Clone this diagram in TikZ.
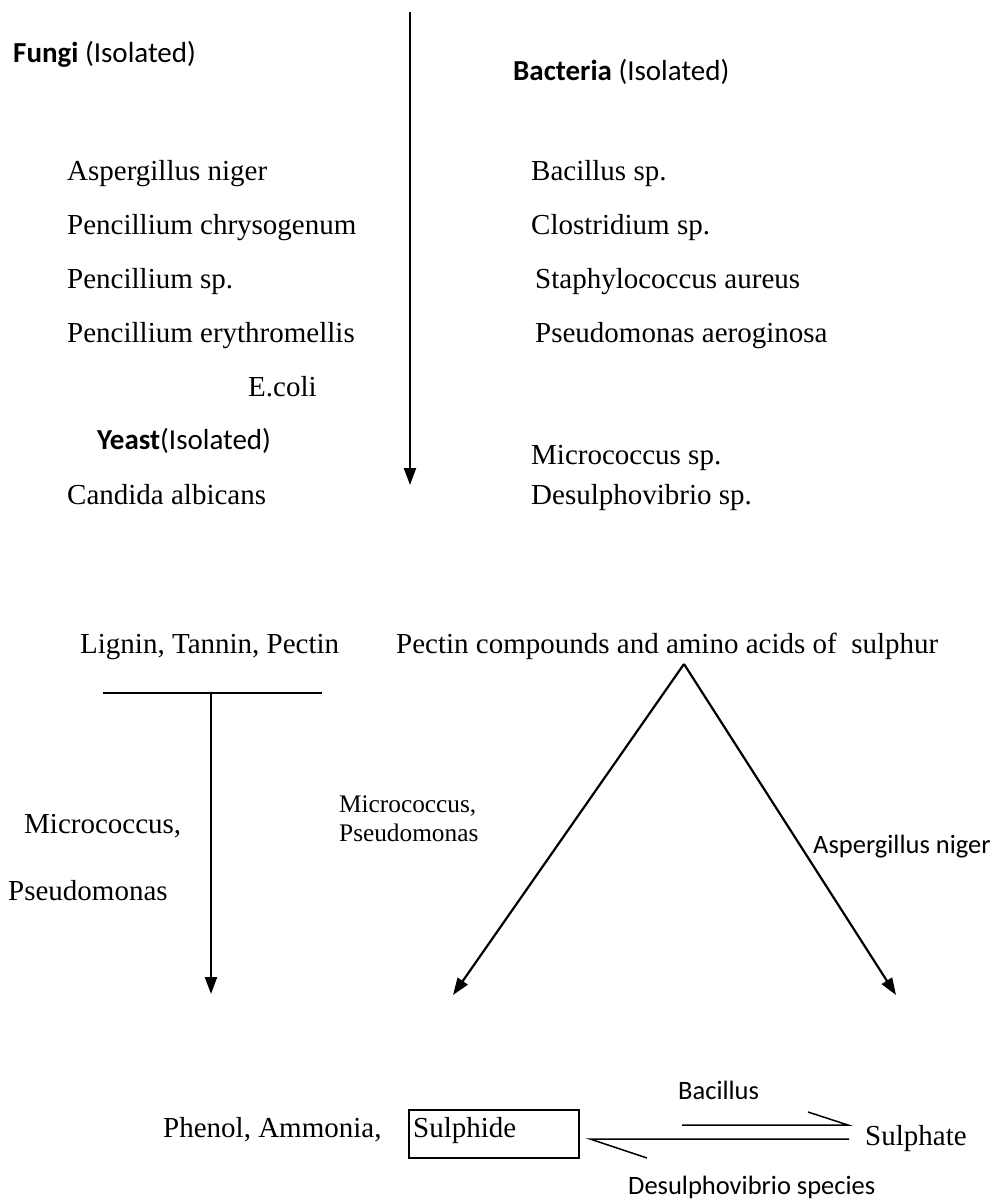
\documentclass[tikz,border=0pt]{standalone}
\usepackage{fontspec}
\setmainfont{Liberation Serif}
\newfontfamily\calfont{Carlito}
\usetikzlibrary{arrows.meta}
\begin{document}
\begin{tikzpicture}[x=1pt,y=-1pt,
  tm/.style={font=\fontsize{29}{34}\selectfont, inner sep=0pt, anchor=base west},
  tms/.style={font=\fontsize{25.3}{30}\selectfont, inner sep=0pt, anchor=base west},
  cb/.style={font=\calfont\fontsize{26.5}{32}\selectfont, inner sep=0pt, anchor=base west},
  cbh/.style={font=\calfont\fontsize{29}{34}\selectfont, inner sep=0pt, anchor=base west},
  ln/.style={line width=2.2pt},
  arr/.style={ln, -{Triangle[length=17pt,width=12pt]}}]
\useasboundingbox (0,0) rectangle (1001,1200);
% headings
\node[cbh] (fungi) at (13,62) {\textbf{Fungi} (Isolated)};
\node[cbh] (bact) at (513,80) {\textbf{Bacteria} (Isolated)};
% left list
\node[tm] (f1) at (67,180) {Aspergillus niger};
\node[tm] (f2) at (67,234) {Pencillium chrysogenum};
\node[tm] (f3) at (67,288) {Pencillium sp.};
\node[tm] (f4) at (67,342) {Pencillium erythromellis};
\node[tm] (f5) at (248,396) {E.coli};
\node[cbh] (yeast) at (97,449) {\textbf{Yeast}(Isolated)};
\node[tm] (f6) at (67,504) {Candida albicans};
% right list
\node[tm] (b1) at (531,180) {Bacillus sp.};
\node[tm] (b2) at (531,234) {Clostridium sp.};
\node[tm] (b3) at (535,288) {Staphylococcus aureus};
\node[tm] (b4) at (535,342) {Pseudomonas aeroginosa};
\node[tm] (b5) at (531,464) {Micrococcus sp.};
\node[tm] (b6) at (531,504) {Desulphovibrio sp.};
% top arrow
\coordinate (ts) at (410,12);
\coordinate (te) at (410,485);
\draw[arr] (ts) -- (te);
% lower section
\node[tm] (lig) at (80,653) {Lignin, Tannin, Pectin};
\node[tm] (pec) at (396,653) {Pectin compounds and amino acids of\ \ sulphur};
\coordinate (barL) at (103,693);
\coordinate (barR) at (322,693);
\coordinate (barM) at (211,693);
\coordinate (barE) at (211,994);
\draw[ln] (barL) -- (barR);
\draw[arr] (barM) -- (barE);
\node[tm] (lm1) at (24,833) {Micrococcus,};
\node[tm] (lm2) at (8,900) {Pseudomonas};
\coordinate (apex) at (684,664);
\coordinate (tl) at (453,995);
\coordinate (tr) at (896,995);
\draw[arr] (apex) -- (tl);
\draw[arr] (apex) -- (tr);
\node[tms] (mm1) at (339,812) {Micrococcus,};
\node[tms] (mm2) at (339,841) {Pseudomonas};
\node[cb] (asp) at (813,853) {Aspergillus niger};
% bottom row
\node[tm] (phen) at (163,1137) {Phenol, Ammonia,};
\node[draw, line width=1.4pt, minimum width=170pt, minimum height=48pt, inner sep=0pt] (sbox) at (494,1134) {};
\node[tm] (sulf) at (413,1137) {Sulphide};
\node[tm] (sulp) at (865,1145) {Sulphate};
\node[cb] (bac) at (678,1099) {Bacillus};
\node[cb] (des) at (628,1194) {Desulphovibrio species};
\coordinate (u1) at (682,1125);
\coordinate (u2) at (848,1125);
\coordinate (u3) at (808,1112);
\coordinate (l1) at (849,1139);
\coordinate (l2) at (590,1139);
\coordinate (l3) at (647,1158);
\draw[line width=1.5pt] (u1) -- (u2) -- (u3);
\draw[line width=1.5pt] (l1) -- (l2) -- (l3);
\end{tikzpicture}
\end{document}
